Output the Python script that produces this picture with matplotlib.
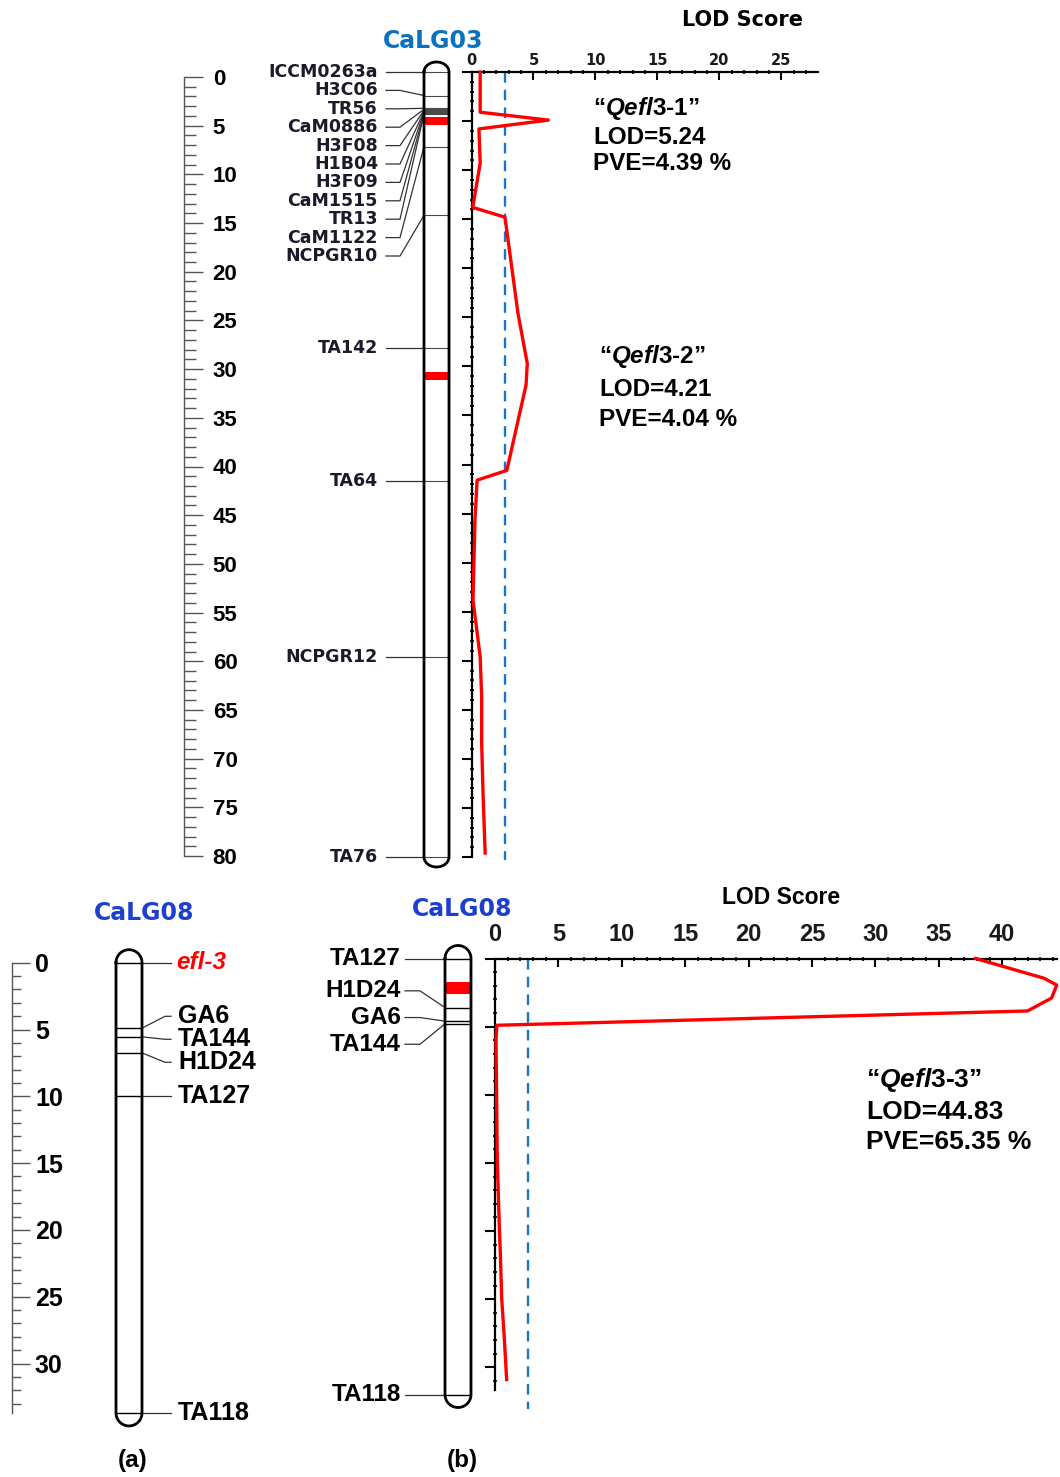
import numpy as np
import matplotlib
matplotlib.use('Agg')
import matplotlib.pyplot as plt
from matplotlib.ticker import MultipleLocator

plt.rcParams['font.family'] = 'Liberation Sans'
plt.rcParams['font.weight'] = 'bold'
plt.rcParams['mathtext.fontset'] = 'custom'
plt.rcParams['mathtext.it'] = 'Liberation Sans:italic:bold'
plt.rcParams['mathtext.rm'] = 'Liberation Sans:bold'

# ---- data ----
# CaLG03 (top): markers and positions in cM
lg03_markers = ['ICCM0263a', 'H3C06', 'TR56', 'CaM0886', 'H3F08', 'H1B04', 'H3F09',
                'CaM1515', 'TR13', 'CaM1122', 'NCPGR10', 'TA142', 'TA64', 'NCPGR12', 'TA76']
lg03_pos = [0, 2.4, 3.7, 3.8, 3.9, 4.0, 4.1, 4.2, 4.3, 7.6, 14.6, 28.1, 41.7, 59.6, 80.0]
lg03_qtl = [(4.6, 5.4), (30.6, 31.4)]
lg03_cm = [0, 4.1, 4.9, 5.8, 9.3, 13.8, 14.8, 24.6, 29.7, 31.9, 40.6, 41.6, 45.7, 53.8,
           59.6, 63.7, 68.4, 73.5, 79.6]
lg03_lod = [0.7, 0.7, 6.2, 0.6, 0.7, 0.1, 2.7, 3.75, 4.5, 4.4, 2.85, 0.45, 0.28, 0.12,
            0.7, 0.82, 0.82, 0.93, 1.1]
lg03_thr = 2.7
lg03_ticks = [0, 5, 10, 15, 20, 25]

# CaLG08 (a): mapped trait locus
lg08a_markers = ['efl-3', 'GA6', 'TA144', 'H1D24', 'TA127', 'TA118']
lg08a_pos = [0, 4.9, 5.55, 6.75, 10.0, 33.7]

# CaLG08 (b): QTL scan
lg08b_markers = ['TA127', 'H1D24', 'GA6', 'TA144', 'TA118']
lg08b_pos = [0, 3.6, 4.6, 4.8, 32.0]
lg08b_qtl = [(1.75, 2.6)]
lg08b_cm = [0, 1.45, 1.95, 2.9, 3.85, 4.9, 6.0, 14.8, 19.7, 21.6, 25.0, 27.5, 30.9]
lg08b_lod = [37.9, 43.3, 44.3, 43.9, 42.0, 0.15, 0.08, 0.18, 0.34, 0.42, 0.53, 0.71, 0.92]
lg08b_thr = 2.6
lg08b_ticks = [0, 5, 10, 15, 20, 25, 30, 35, 40]

qtl_names = ['Qefl3-1', 'Qefl3-2', 'Qefl3-3']
qtl_lod = ['5.24', '4.21', '44.83']
qtl_pve = ['4.39', '4.04', '65.35']

# ---- layout ----
W, H = 1060, 1477
fig = plt.figure(figsize=(W / 100, H / 100), dpi=100)
RED = '#ff0000'
BLUE_DASH = '#1a75c8'


def px_axes(x0, y0, x1, y1):
    ax = fig.add_axes([x0 / W, 1 - y1 / H, (x1 - x0) / W, (y1 - y0) / H])
    ax.patch.set_visible(False)
    return ax


def cm_axes(x0, x1, ytop, ybot, zero, scale):
    ax = px_axes(x0, ytop, x1, ybot)
    ax.set_xlim(x0, x1)
    ax.set_ylim((ybot - zero) / scale, (ytop - zero) / scale)
    ax.axis('off')
    return ax


def spread(pos, gap, lo):
    # push overlapping labels apart, keeping each group centred on its markers
    blocks = []
    for p in pos:
        blocks.append([p, [p]])
        while len(blocks) > 1:
            s0, m0 = blocks[-2]
            s1, m1 = blocks[-1]
            if s0 + gap * len(m0) > s1:
                m = m0 + m1
                start = np.mean([v - gap * i for i, v in enumerate(m)])
                blocks[-2:] = [[start, m]]
            else:
                break
        if len(blocks) == 1 and blocks[0][0] < lo:
            blocks[0][0] = lo
    out = []
    for s, m in blocks:
        out += [s + gap * i for i in range(len(m))]
    return out


def chromosome(ax, xl, xr, top, bot, cap, lw=2.0):
    cx, r = (xl + xr) / 2, (xr - xl) / 2
    t = np.linspace(0, np.pi, 40)
    xs = np.concatenate([[xl, xl], cx - r * np.cos(t), [xr, xr], cx + r * np.cos(t)])
    ys = np.concatenate([[top, bot], bot + cap * np.sin(t), [bot, top], top - cap * np.sin(t)])
    ax.plot(xs, ys, color='black', lw=lw, solid_joinstyle='round', zorder=6)


def ruler(ax, ymax, major_len, minor_len, pad, size):
    ax.set_ylim(ymax, 0)
    for s in ['top', 'right', 'bottom']:
        ax.spines[s].set_visible(False)
    ax.spines['left'].set_color('#555555')
    ax.spines['left'].set_linewidth(1.0)
    ax.set_xticks([])
    ax.yaxis.set_major_locator(MultipleLocator(5))
    ax.yaxis.set_minor_locator(MultipleLocator(1))
    ax.tick_params(axis='y', which='major', direction='in', length=major_len, width=1.0,
                   color='#555555', pad=pad, labelsize=size)
    ax.tick_params(axis='y', which='minor', direction='in', length=minor_len, width=1.0,
                   color='#555555')
    plt.setp(ax.get_yticklabels(), ha='left')


def lod_axes(ax, xmax, ymax, ticks, size, pad, family):
    ax.set_xlim(0, xmax)
    ax.set_ylim(ymax, 0)
    for s in ['right', 'bottom']:
        ax.spines[s].set_visible(False)
    for s in ['top', 'left']:
        ax.spines[s].set_linewidth(1.6)
    ax.xaxis.tick_top()
    ax.set_xticks(ticks)
    ax.xaxis.set_minor_locator(MultipleLocator(1))
    ax.yaxis.set_major_locator(MultipleLocator(5))
    ax.yaxis.set_minor_locator(MultipleLocator(1))
    ax.tick_params(axis='x', which='major', direction='in', length=5.5, width=1.5,
                   pad=pad, labelsize=size, labelcolor='#1a1a1a')
    ax.tick_params(axis='x', which='minor', direction='inout', length=3, width=1.2)
    ax.tick_params(axis='y', which='major', direction='out', length=7, width=1.5,
                   labelleft=False)
    ax.tick_params(axis='y', which='minor', direction='inout', length=3, width=1.2)
    plt.setp(ax.get_xticklabels(), fontfamily=family, fontweight='bold')


# ===== top panel: CaLG03 =====
s1, z1 = 9.8125, 72.0
axr1 = px_axes(183.5, 77, 262, 856)
ruler(axr1, 80, 14, 8.5, -21, 16)

axc1 = cm_axes(250, 462, 40, 885, z1, s1)
chromosome(axc1, 424, 449, lg03_pos[0], lg03_pos[-1], 10 / s1)
axc1.hlines(lg03_pos, 424, 449, color='#4a4a4a', lw=0.8, zorder=3)
for lo, hi in lg03_qtl:
    axc1.bar(436.5, hi - lo, bottom=lo, width=25, color=RED, zorder=4)
lab1 = spread(lg03_pos, 18.4 / s1, lg03_pos[0])
for name, p, l in zip(lg03_markers, lg03_pos, lab1):
    axc1.plot([386, 400, 424], [l, l, p], color='#333333', lw=0.9)
    axc1.text(378, l, name, ha='right', va='center', fontsize=12.5,
              family='DejaVu Sans', fontweight='bold', color='#1a1a2a')

axl1 = px_axes(471.5, z1, 818, z1 + 80 * s1)
lod_axes(axl1, 27.95, 80, lg03_ticks, 10.5, 3, 'DejaVu Sans')
axl1.plot([lg03_thr, lg03_thr], [0, 80.3], color=BLUE_DASH, lw=1.7, dashes=(4.5, 3),
          clip_on=False)
axl1.plot(lg03_lod, lg03_cm, color=RED, lw=2.4, clip_on=False, zorder=5)

# ===== panel (a): CaLG08 =====
s3, z3 = 13.36, 962.7
axr3 = px_axes(12, z3, 100, z3 + 33.7 * s3)
ruler(axr3, 33.7, 13, 6.5, -16.5, 18)

axc3 = cm_axes(100, 300, 935, 1445, z3, s3)
chromosome(axc3, 116, 142, lg08a_pos[0], lg08a_pos[-1], 13 / s3)
axc3.hlines(lg08a_pos, 116, 142, color='black', lw=1.0)
lab3 = spread(lg08a_pos, 23 / s3, lg08a_pos[0])
for name, p, l in zip(lg08a_markers, lg08a_pos, lab3):
    axc3.plot([142, 165, 171], [p, l, l], color='#333333', lw=0.9)
    if name == 'efl-3':
        axc3.text(176, l, name, ha='left', va='center', fontsize=17.5, color=RED,
                  fontstyle='italic')
    else:
        axc3.text(178, l, name, ha='left', va='center', fontsize=18, color='black')

# ===== panel (b): CaLG08 QTL =====
s2, z2 = 13.625, 958.5
axc2 = cm_axes(300, 480, 930, 1425, z2, s2)
chromosome(axc2, 445, 471, lg08b_pos[0], lg08b_pos[-1], 13 / s2)
axc2.hlines(lg08b_pos, 445, 471, color='black', lw=1.0, zorder=3)
for lo, hi in lg08b_qtl:
    axc2.bar(458, hi - lo, bottom=lo, width=26, color=RED, zorder=4)
lab2 = spread(lg08b_pos, 26.7 / s2, lg08b_pos[0])
for name, p, l in zip(lg08b_markers, lg08b_pos, lab2):
    axc2.plot([405, 420, 445], [l, l, p], color='#333333', lw=0.9)
    axc2.text(401, l, name, ha='right', va='center', fontsize=17.5, color='black')

axl2 = px_axes(495, z2, 495 + 44.3 * 12.68, z2 + 31.7 * s2)
lod_axes(axl2, 44.3, 31.7, lg08b_ticks, 17, 9, 'Liberation Sans')
axl2.plot([lg08b_thr, lg08b_thr], [0, 33.1], color=BLUE_DASH, lw=1.7, dashes=(4.5, 3),
          clip_on=False)
axl2.plot(lg08b_lod, lg08b_cm, color=RED, lw=2.4, clip_on=False, zorder=5)

# ===== free text =====
axt = fig.add_axes([0, 0, 1, 1])
axt.set_xlim(0, W)
axt.set_ylim(H, 0)
axt.axis('off')

axt.text(743, 20, 'LOD Score', ha='center', va='center', fontsize=15,
         family='DejaVu Sans', fontweight='bold')
axt.text(433, 41, 'CaLG03', ha='center', va='center', fontsize=17,
         family='DejaVu Sans', fontweight='bold', color='#0a70c0')
axt.text(144, 913, 'CaLG08', ha='center', va='center', fontsize=17,
         family='DejaVu Sans', fontweight='bold', color='#1c3fd0')
axt.text(462, 909, 'CaLG08', ha='center', va='center', fontsize=17,
         family='DejaVu Sans', fontweight='bold', color='#1c3fd0')
axt.text(781, 897, 'LOD Score', ha='center', va='center', fontsize=16.5)
axt.text(133, 1460, '(a)', ha='center', va='center', fontsize=17.5)
axt.text(462, 1460, '(b)', ha='center', va='center', fontsize=17.5)

qtl_xy = [(593, 108, 29, 17.5), (599, 357, 32, 17.5), (866, 1080, 32, 19)]
for (x, y, dy, fs), name, lod, pve in zip(qtl_xy, qtl_names, qtl_lod, qtl_pve):
    base, num = name.split('-')
    axt.text(x, y, '\u201c$\\mathit{' + base + '}$-' + num + '\u201d', ha='left',
             va='center', fontsize=fs)
    axt.text(x, y + dy, 'LOD=' + lod, ha='left', va='center', fontsize=fs)
    axt.text(x, y + 2 * dy - 2, 'PVE=' + pve + ' %', ha='left', va='center', fontsize=fs)

fig.savefig('out.png', dpi=100)
